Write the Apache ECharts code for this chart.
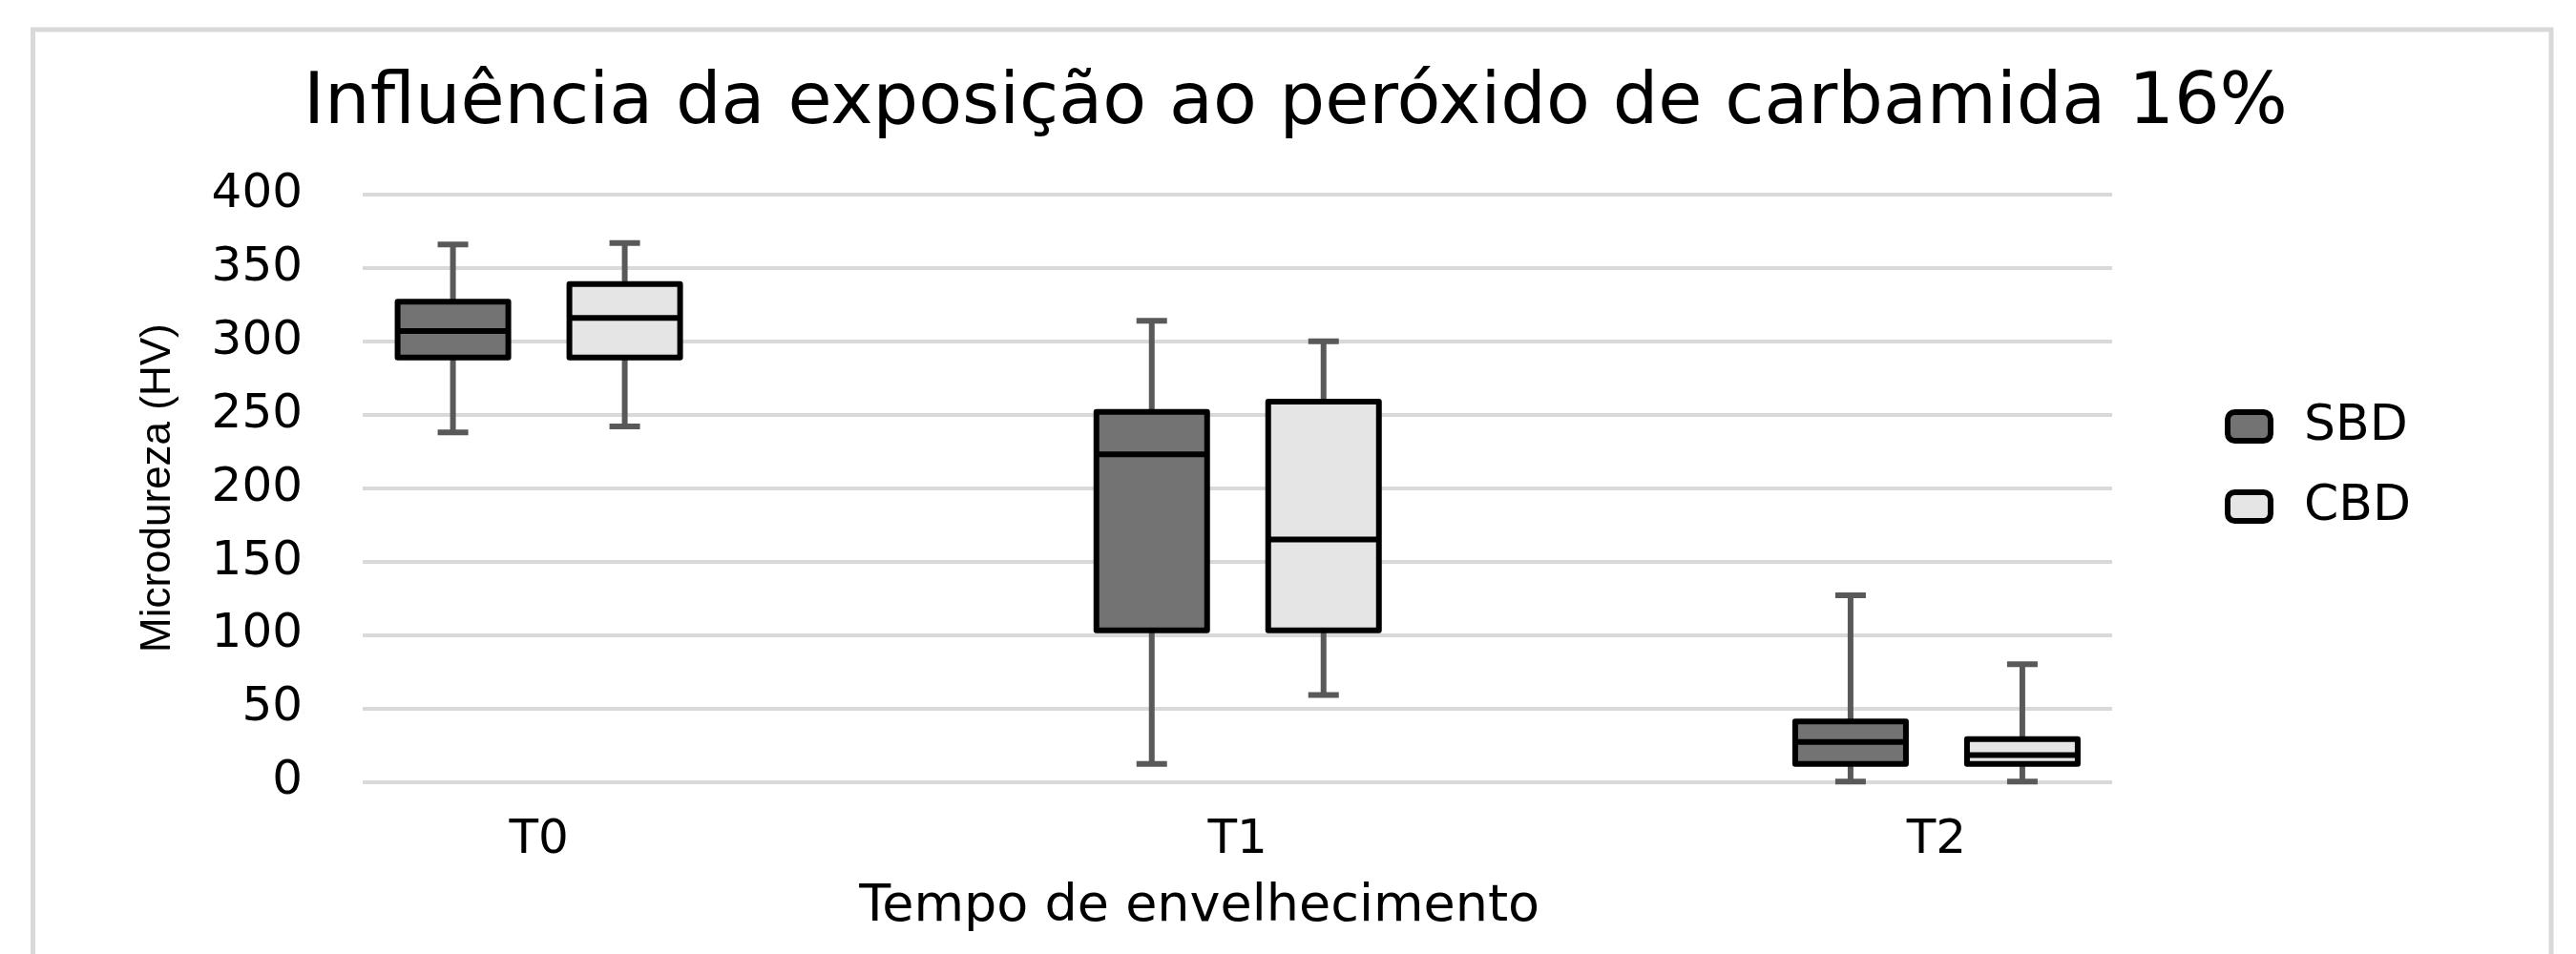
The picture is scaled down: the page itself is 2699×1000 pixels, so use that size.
<!DOCTYPE html>
<html>
<head>
<meta charset="utf-8">
<script src="https://cdn.jsdelivr.net/npm/echarts@6/dist/echarts.min.js"></script>
<style>
  html, body { margin: 0; padding: 0; background: #fff; }
  #chart { width: 2699px; height: 1000px; }
</style>
</head>
<body>
<div id="chart"></div>
<script>
// categorias (tempo de envelhecimento)
const categories = ['T0', 'T1', 'T2']
const yTicks = [0, 50, 100, 150, 200, 250, 300, 350, 400]

// SBD: min, Q1, mediana, Q3, max
const sbdMin = [238, 12, 0]
const sbdQ1 = [289, 103, 12]
const sbdMedian = [307, 223, 27]
const sbdQ3 = [327, 252, 41]
const sbdMax = [366, 314, 127]

// CBD
const cbdMin = [242, 59, 0]
const cbdQ1 = [289, 103, 12]
const cbdMedian = [316, 165, 18]
const cbdQ3 = [339, 259, 29]
const cbdMax = [367, 300, 80]

const FONT = 'DejaVu Sans'
const WHISKER = '#595959'
const BOX_W = 116
const CAP_W = 32
const OFFSET = 90

function rows(min, q1, med, q3, max) {
  return categories.map((c, i) => [i, min[i], q1[i], med[i], q3[i], max[i]])
}

function boxRenderer(offset, fill) {
  return function (params, api) {
    const idx = api.value(0)
    const cx = api.coord([idx, 0])[0] + offset
    const yMin = api.coord([idx, api.value(1)])[1]
    const yQ1 = api.coord([idx, api.value(2)])[1]
    const yMed = api.coord([idx, api.value(3)])[1]
    const yQ3 = api.coord([idx, api.value(4)])[1]
    const yMax = api.coord([idx, api.value(5)])[1]
    const whisker = { stroke: WHISKER, lineWidth: 6 }
    return {
      type: 'group',
      children: [
        { type: 'line', shape: { x1: cx, y1: yMax, x2: cx, y2: yQ3 }, style: whisker },
        { type: 'line', shape: { x1: cx, y1: yQ1, x2: cx, y2: yMin }, style: whisker },
        { type: 'line', shape: { x1: cx - CAP_W / 2, y1: yMax, x2: cx + CAP_W / 2, y2: yMax }, style: whisker },
        { type: 'line', shape: { x1: cx - CAP_W / 2, y1: yMin, x2: cx + CAP_W / 2, y2: yMin }, style: whisker },
        {
          type: 'rect',
          shape: { x: cx - BOX_W / 2, y: yQ3, width: BOX_W, height: yQ1 - yQ3 },
          style: { fill: fill, stroke: '#000', lineWidth: 6, lineJoin: 'round' }
        },
        {
          type: 'line',
          shape: { x1: cx - BOX_W / 2, y1: yMed, x2: cx + BOX_W / 2, y2: yMed },
          style: { stroke: '#000', lineWidth: 6 }
        }
      ]
    }
  }
}

const myChart = echarts.init(document.getElementById('chart'))
myChart.setOption({
  backgroundColor: '#fff',
  animation: false,
  title: {
    text: 'Influência da exposição ao peróxido de carbamida 16%',
    left: 318,
    top: 72,
    padding: 0,
    textStyle: { fontFamily: FONT, fontSize: 75, fontWeight: 'normal', color: '#000' }
  },
  legend: {
    orient: 'vertical',
    left: 2331,
    top: 421,
    padding: 0,
    itemWidth: 45,
    itemHeight: 30,
    itemGap: 32,
    textStyle: { fontFamily: FONT, fontSize: 52, color: '#000', padding: [0, 0, 0, 30] },
    data: [
      { name: 'SBD', icon: 'roundRect', itemStyle: { color: '#737373', borderColor: '#000', borderWidth: 6 } },
      { name: 'CBD', icon: 'roundRect', itemStyle: { color: '#e5e5e5', borderColor: '#000', borderWidth: 6 } }
    ]
  },
  graphic: [
    {
      type: 'rect',
      shape: { x: 34.5, y: 31, width: 2638.5, height: 1000 },
      style: { fill: 'none', stroke: '#d9d9d9', lineWidth: 5 },
      z: -10
    }
  ],
  grid: [
    // caixas
    { left: 198.5, right: 304, top: 204, bottom: 180.7 },
    // linhas de grade
    { left: 380, right: 486, top: 204, bottom: 180.7 }
  ],
  xAxis: [
    {
      gridIndex: 0,
      type: 'category',
      data: categories,
      axisLine: { show: false },
      axisTick: { show: false },
      splitLine: { show: false },
      axisLabel: { fontFamily: FONT, fontSize: 50, color: '#000', margin: 37 },
      name: 'Tempo de envelhecimento',
      nameLocation: 'middle',
      nameGap: 105,
      nameTextStyle: { fontFamily: FONT, fontSize: 54, color: '#000', padding: [0, 80, 0, 0] }
    },
    { gridIndex: 1, type: 'value', show: false }
  ],
  yAxis: [
    { gridIndex: 0, type: 'value', min: 0, max: 400, interval: 50, show: false },
    {
      gridIndex: 1,
      type: 'value',
      min: yTicks[0],
      max: yTicks[yTicks.length - 1],
      interval: 50,
      axisLine: { show: false },
      axisTick: { show: false },
      axisLabel: { fontFamily: FONT, fontSize: 50, color: '#000', margin: 63 },
      splitLine: { lineStyle: { color: '#d9d9d9', width: 4 } },
      name: 'Microdureza (HV)',
      nameLocation: 'middle',
      nameRotate: 90,
      nameGap: 192,
      nameTextStyle: { fontFamily: 'Liberation Sans', fontSize: 44, color: '#000' }
    }
  ],
  series: [
    {
      name: 'SBD',
      type: 'custom',
      xAxisIndex: 0,
      yAxisIndex: 0,
      itemStyle: { color: '#737373' },
      encode: { x: 0, y: [1, 2, 3, 4, 5] },
      renderItem: boxRenderer(-OFFSET, '#737373'),
      data: rows(sbdMin, sbdQ1, sbdMedian, sbdQ3, sbdMax)
    },
    {
      name: 'CBD',
      type: 'custom',
      xAxisIndex: 0,
      yAxisIndex: 0,
      itemStyle: { color: '#e5e5e5' },
      encode: { x: 0, y: [1, 2, 3, 4, 5] },
      renderItem: boxRenderer(OFFSET, '#e5e5e5'),
      data: rows(cbdMin, cbdQ1, cbdMedian, cbdQ3, cbdMax)
    }
  ]
})
</script>
</body>
</html>
